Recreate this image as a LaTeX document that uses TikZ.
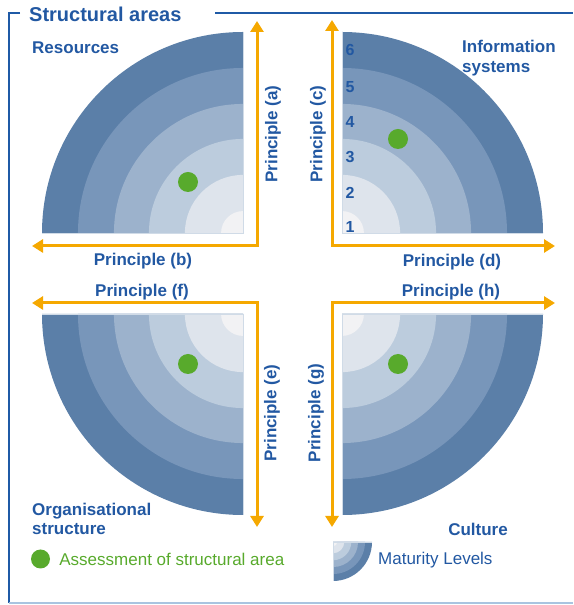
\documentclass[tikz,border=0pt]{standalone}
\usepackage{fontspec}
\setmainfont{Liberation Sans}
\usepackage{tikz}
\definecolor{tx}{RGB}{34, 88, 162}
\definecolor{fr}{RGB}{31, 90, 166}
\definecolor{bl}{RGB}{169, 196, 224}
\definecolor{or}{RGB}{245, 168, 0}
\definecolor{gr}{RGB}{88, 170, 44}
\definecolor{la}{RGB}{242, 242, 244}
\definecolor{lb}{RGB}{222, 228, 236}
\definecolor{lc}{RGB}{188, 204, 221}
\definecolor{ld}{RGB}{156, 178, 204}
\definecolor{le}{RGB}{120, 150, 186}
\definecolor{lf}{RGB}{91, 127, 168}
\usetikzlibrary{positioning,arrows.meta}
\def\rad{201}
\newcommand{\area}[5]{\coordinate (#4) at (#1,#2);
	\foreach \r/\c in {1/lf,0.821/le,0.642/ld,0.468/lc,0.289/lb,0.109/la}
		\fill[\c] (#4) -- ++(#3:{\r*#5}) arc[start angle=#3,end angle=#3+90,radius=\r*#5] -- cycle;
	\draw[edge] (#4) ++(#3:#5) -- (#4) -- ++({#3+90}:#5); }

\begin{document}
\begin{tikzpicture}[x=1pt,y=1pt,
	edge/.style={color=lc!70!white,line width=0.8pt},
	arr/.style={<->,color=or,line width=3pt},
	>={Triangle[length=11pt,width=13pt]},
	lab/.style={text=tx,inner sep=0pt,font=\fontsize{17}{19.5}\selectfont\bfseries},
	num/.style={text=tx,inner sep=0pt,font=\fontsize{16}{18}\selectfont\bfseries},
	score/.style={circle,fill=gr,inner sep=0pt,minimum size=20pt}]
\useasboundingbox (0,0) rectangle (573,605);

\draw[color=fr,line width=2.5pt] (20,592) -- (9,592) -- (9,2);
\draw[color=fr,line width=2.5pt] (215,592) -- (573,592);
\draw[color=bl,line width=1.5pt] (9,2) -- (573,2);
\node[text=tx,inner sep=0pt,anchor=west,font=\fontsize{20}{22}\selectfont\bfseries] (title) at (29,591) {Structural areas};

\area{243}{372}{90}{TL}{\rad}
\area{342}{372}{0}{TR}{\rad}
\area{243}{291}{180}{BL}{\rad}
\area{342}{291}{270}{BR}{\rad}

\node[score] (sTL) at (188,423) {};
\node[score] (sTR) at (398,466) {};
\node[score] (sBL) at (188,241) {};
\node[score] (sBR) at (398,241) {};

\node[num] (n6) at (350,555) {6};
\node[num] (n5) at (350,518) {5};
\node[num] (n4) at (350,483) {4};
\node[num] (n3) at (350,448) {3};
\node[num] (n2) at (350,412) {2};
\node[num] (n1) at (350,378) {1};

\coordinate (cTL) at (257,359);
\coordinate (cTR) at (332,359);
\coordinate (cBL) at (257,302);
\coordinate (cBR) at (332,302);
\coordinate (tA) at (257,584);
\coordinate (tB) at (32,359);
\coordinate (tC) at (332,585);
\coordinate (tD) at (555,359);
\coordinate (tE) at (257,78);
\coordinate (tF) at (32,302);
\coordinate (tG) at (332,78);
\coordinate (tH) at (555,302);
\draw[arr] (tB) -- (cTL) -- (tA);
\draw[arr] (tC) -- (cTR) -- (tD);
\draw[arr] (tF) -- (cBL) -- (tE);
\draw[arr] (tH) -- (cBR) -- (tG);

\node[lab,rotate=90] (pa) at (273,471) {Principle (a)};
\node[lab] (pb) at (143,344) {Principle (b)};
\node[lab,rotate=90] (pc) at (318,471) {Principle (c)};
\node[lab] (pd) at (452,343) {Principle (d)};
\node[lab,rotate=90] (pe) at (272,192) {Principle (e)};
\node[lab] (pf) at (142,313) {Principle (f)};
\node[lab,rotate=90] (pg) at (316,192) {Principle (g)};
\node[lab] (ph) at (451,313) {Principle (h)};

\node[lab,anchor=west] (res) at (32,557) {Resources};
\node[lab,anchor=west,align=left] (info) at (462,547) {Information\\systems};
\node[lab,anchor=west,align=left] (org) at (32,86) {Organisational\\structure};
\node[lab] (cul) at (478,76) {Culture};

\node[score,minimum size=19pt] (key) at (40.5,46) {};
\node[text=gr,inner sep=0pt,font=\fontsize{17}{19}\selectfont,right=9pt of key] (keytext) {Assessment of structural area};
\area{333}{63}{270}{icon}{39}
\node[text=tx,inner sep=0pt,font=\fontsize{17}{19}\selectfont,anchor=west] (mat) at (378,45) {Maturity Levels};
\end{tikzpicture}
\end{document}
